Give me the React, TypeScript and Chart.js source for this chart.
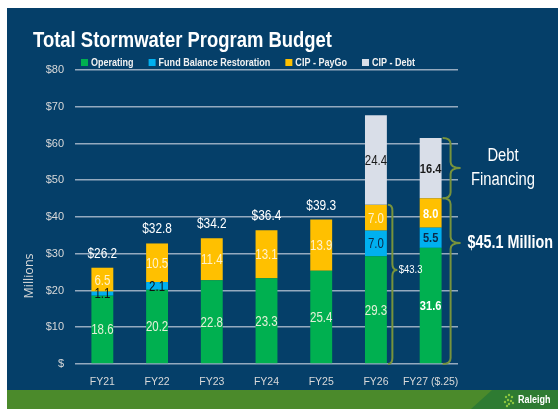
import React, { useEffect, useRef } from 'react';
import { Chart, registerables } from 'chart.js';

Chart.register(...registerables);

const categories = ['FY21', 'FY22', 'FY23', 'FY24', 'FY25', 'FY26', 'FY27 ($.25)'];
const operating = [18.6, 20.2, 22.8, 23.3, 25.4, 29.3, 31.6];
const fundBalance = [1.1, 2.1, 0, 0, 0, 7.0, 5.5];
const payGo = [6.5, 10.5, 11.4, 13.1, 13.9, 7.0, 8.0];
const debt = [0, 0, 0, 0, 0, 24.4, 16.4];
const totalLabels = ['$26.2', '$32.8', '$34.2', '$36.4', '$39.3', '', ''];
const seriesNames = ['Operating', 'Fund Balance Restoration', 'CIP - PayGo', 'CIP - Debt'];
const seriesColors = ['#00B050', '#00B0F0', '#FFC000', '#D9DEE8'];
const yMin = 0;
const yMax = 80;
const yStep = 10;
const titleText = 'Total Stormwater Program Budget';
const axisTitle = 'Millions';
const fy26Label = '$43.3';
const fy27Text = ['Debt', 'Financing'];
const fy27Total = '$45.1 Million';

const FAM = '"Liberation Sans", Arial, sans-serif';
const SX = 0.82;

function T(ctx: CanvasRenderingContext2D, text: string, x: number, y: number, size: number, bold: boolean, align: CanvasTextAlign, color: string, sx = SX, baseline: CanvasTextBaseline = 'middle') {
  ctx.save();
  ctx.translate(x, y);
  ctx.scale(sx, 1);
  ctx.font = `${bold ? 'bold ' : ''}${size}px ${FAM}`;
  ctx.fillStyle = color;
  ctx.textAlign = align;
  ctx.textBaseline = baseline;
  ctx.fillText(text, 0, 0);
  const w = ctx.measureText(text).width * sx;
  ctx.restore();
  return w;
}

function drawBrace(ctx: CanvasRenderingContext2D, x0: number, yTop: number, yBot: number, tipFrac: number, dv: number, dt: number) {
  const xv = x0 + dv;
  const xt = x0 + dt;
  const r = Math.min(6, (yBot - yTop) / 4);
  const ym = yTop + (yBot - yTop) * tipFrac;
  ctx.beginPath();
  ctx.moveTo(x0, yTop);
  ctx.quadraticCurveTo(xv, yTop, xv, yTop + r);
  ctx.lineTo(xv, ym - r);
  ctx.quadraticCurveTo(xv, ym, xt, ym);
  ctx.quadraticCurveTo(xv, ym, xv, ym + r);
  ctx.lineTo(xv, yBot - r);
  ctx.quadraticCurveTo(xv, yBot, x0, yBot);
  ctx.stroke();
  return ym;
}

export default function App() {
  const ref = useRef<HTMLCanvasElement>(null);
  useEffect(() => {
    document.body.style.margin = '0';
    Chart.defaults.font.family = FAM;

    const bgPlugin = {
      id: 'bg',
      beforeDraw(chart: any) {
        const ctx = chart.ctx;
        const W = chart.width;
        ctx.save();
        ctx.fillStyle = '#ffffff';
        ctx.fillRect(0, 0, W, chart.height);
        ctx.fillStyle = '#053F69';
        ctx.fillRect(7, 8, W - 7, 382);
        ctx.fillStyle = '#4B8A2B';
        ctx.fillRect(7, 390, W - 7, 19);
        ctx.fillStyle = '#2E7B32';
        ctx.beginPath();
        ctx.moveTo(492, 390);
        ctx.lineTo(W, 390);
        ctx.lineTo(W, 409);
        ctx.lineTo(471, 409);
        ctx.closePath();
        ctx.fill();
        ctx.restore();
      },
    };

    const overlayPlugin = {
      id: 'overlay',
      afterDatasetsDraw(chart: any) {
        const ctx: CanvasRenderingContext2D = chart.ctx;
        const ys = chart.scales.y;
        ctx.save();
        const labelColors = [
          (i: number) => (i === 6 ? '#FFFFFF' : '#E2F0D9'),
          (i: number) => (i < 5 ? '#111111' : '#0B2A4A'),
          (i: number) => (i === 6 ? '#FFFFFF' : '#FFF2CC'),
          () => '#1A1A1A',
        ];
        chart.data.datasets.forEach((ds: any, di: number) => {
          const meta = chart.getDatasetMeta(di);
          meta.data.forEach((el: any, i: number) => {
            const v = ds.data[i];
            if (!v) return;
            const bold = i === 6;
            T(ctx, v.toFixed(1), el.x, (el.y + el.base) / 2 + 1, bold ? 13.5 : 14, bold, 'center', labelColors[di](i));
          });
        });
        const topMeta = chart.getDatasetMeta(2);
        totalLabels.forEach((t, i) => {
          if (!t) return;
          const el = topMeta.data[i];
          T(ctx, t, el.x, el.y - 14, 14.5, false, 'center', '#FFFFFF');
        });
        ctx.strokeStyle = '#77933C';
        ctx.lineWidth = 2;
        const base = chart.getDatasetMeta(0).data;
        const b26 = base[5];
        const sum26 = operating[5] + fundBalance[5] + payGo[5];
        const x26 = b26.x + b26.width / 2 + 1;
        const ym26 = drawBrace(ctx, x26, ys.getPixelForValue(sum26), ys.getPixelForValue(0), 0.41, 4.5, 9.5);
        T(ctx, fy26Label, x26 + 11, ym26, 11.5, false, 'left', '#FFFFFF');

        const b27 = base[6];
        const sub27 = operating[6] + fundBalance[6] + payGo[6];
        const tot27 = sub27 + debt[6];
        const x27 = b27.x + b27.width / 2 + 1;
        const ymA = drawBrace(ctx, x27, ys.getPixelForValue(tot27), ys.getPixelForValue(sub27), 0.5, 8, 18);
        const ymB = drawBrace(ctx, x27, ys.getPixelForValue(sub27), ys.getPixelForValue(0), 0.27, 8, 18);
        T(ctx, fy27Text[0], 503, ymA - 12, 18, false, 'center', '#FFFFFF');
        T(ctx, fy27Text[1], 503, ymA + 12, 18, false, 'center', '#FFFFFF');
        T(ctx, fy27Total, x27 + 25, ymB, 17.5, true, 'left', '#FFFFFF');
        ctx.restore();
      },
      afterDraw(chart: any) {
        const ctx: CanvasRenderingContext2D = chart.ctx;
        const ca = chart.chartArea;
        ctx.save();
        T(ctx, titleText, 33, 47, 22.5, true, 'left', '#FFFFFF', SX, 'alphabetic');
        let x = 81;
        seriesNames.forEach((n, i) => {
          ctx.fillStyle = seriesColors[i];
          ctx.fillRect(x, 59, 7, 7);
          const w = T(ctx, n, x + 10, 62.5, 11, true, 'left', '#F2F2F2');
          x += 10 + w + 15;
        });
        ctx.save();
        ctx.translate(ca.left - 46, (ca.top + ca.bottom) / 2 + 59);
        ctx.rotate(-Math.PI / 2);
        ctx.font = `12.5px "Open Sans", sans-serif`;
        ctx.fillStyle = '#D9D9D9';
        ctx.textAlign = 'center';
        ctx.textBaseline = 'middle';
        ctx.fillText(axisTitle, 0, 0);
        ctx.restore();
        ctx.fillStyle = '#8CC63F';
        const dots = [[506, 397], [509, 395], [512, 397], [508, 400], [511, 401], [505, 402], [509, 404], [513, 403], [507, 406]];
        dots.forEach(([dx, dy]) => {
          ctx.beginPath();
          ctx.arc(dx, dy, 1.2, 0, Math.PI * 2);
          ctx.fill();
        });
        T(ctx, 'Raleigh', 518, 400, 11, true, 'left', '#FFFFFF');
        ctx.restore();
      },
    };

    const chart = new Chart(ref.current!, {
      type: 'bar',
      data: {
        labels: categories,
        datasets: [
          { label: seriesNames[0], data: operating, backgroundColor: seriesColors[0] },
          { label: seriesNames[1], data: fundBalance, backgroundColor: seriesColors[1] },
          { label: seriesNames[2], data: payGo, backgroundColor: seriesColors[2] },
          { label: seriesNames[3], data: debt, backgroundColor: seriesColors[3] },
        ],
      },
      options: {
        responsive: false,
        animation: false,
        layout: { padding: { left: 0, right: 100, top: 70, bottom: 18 } },
        datasets: { bar: { categoryPercentage: 1, barPercentage: 0.4 } } as any,
        plugins: { legend: { display: false }, tooltip: { enabled: false }, title: { display: false } },
        scales: {
          x: {
            stacked: true,
            grid: { display: false, drawTicks: false },
            border: { display: false },
            ticks: { color: '#D9D9D9', font: { size: 10.5 }, padding: 12, maxRotation: 0, minRotation: 0, autoSkip: false },
            afterFit: (s: any) => { s.height = 30; },
          },
          y: {
            stacked: true,
            min: yMin,
            max: yMax,
            grid: { color: 'rgba(185,198,212,0.8)', lineWidth: 1.6, drawTicks: false },
            border: { display: false },
            ticks: {
              stepSize: yStep,
              color: '#D9D9D9',
              font: { size: 11 },
              padding: 11,
              callback: (v: any) => (v === 0 ? '$' : '$' + v),
            },
            afterFit: (s: any) => { s.width = 75; },
          },
        },
      },
      plugins: [bgPlugin, overlayPlugin],
    });
    return () => chart.destroy();
  }, []);
  return (
    <div style={{ width: 558, height: 412 }}>
      <canvas ref={ref} width={558} height={412} style={{ display: 'block' }} />
    </div>
  );
}
